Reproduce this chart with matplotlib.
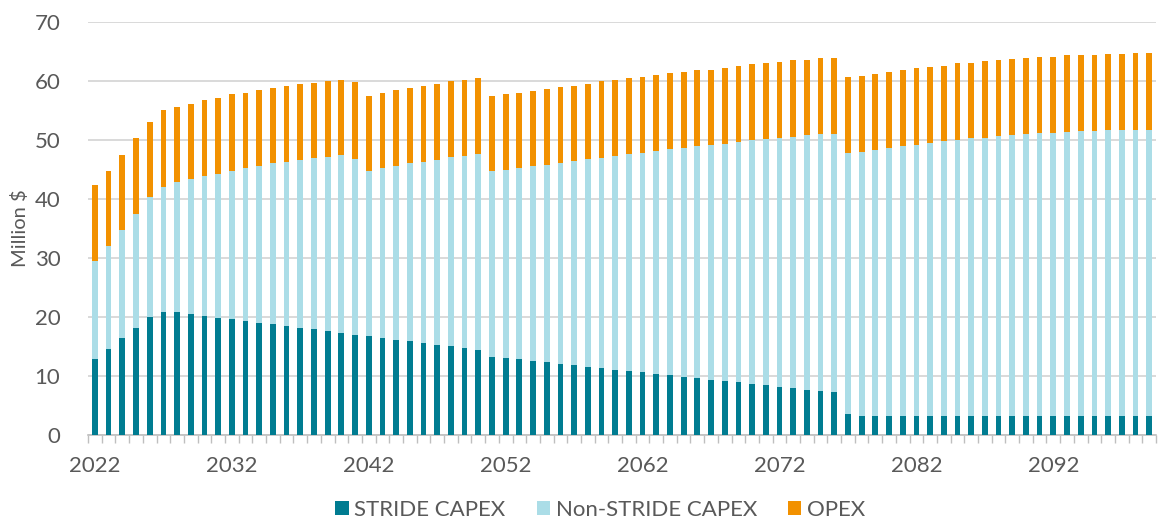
"""Stacked annual cost chart: STRIDE CAPEX, Non-STRIDE CAPEX and OPEX, 2022-2099."""

import matplotlib

matplotlib.use("Agg")
import matplotlib.pyplot as plt
import numpy as np
from matplotlib.patches import Patch
from matplotlib.ticker import FixedLocator, MultipleLocator

YEARS = list(range(2022, 2100))

STRIDE_CAPEX = [
    12.9, 14.5, 16.4, 18.1, 20.0, 20.9, 20.8, 20.5, 20.2, 19.9,
    19.6, 19.3, 19.0, 18.8, 18.5, 18.1, 17.9, 17.6, 17.3, 17.0,
    16.7, 16.4, 16.1, 15.9, 15.6, 15.3, 15.0, 14.7, 14.4, 13.2,
    13.0, 12.8, 12.5, 12.3, 12.0, 11.8, 11.5, 11.3, 11.0, 10.8,
    10.6, 10.3, 10.1, 9.9, 9.7, 9.4, 9.2, 8.9, 8.7, 8.4,
    8.1, 7.9, 7.7, 7.5, 7.2, 3.6, 3.3, 3.3, 3.3, 3.3,
    3.3, 3.3, 3.3, 3.3, 3.3, 3.3, 3.3, 3.3, 3.3, 3.3,
    3.3, 3.3, 3.3, 3.3, 3.3, 3.3, 3.3, 3.3,
]

NON_STRIDE_CAPEX = [
    16.6, 17.5, 18.3, 19.4, 20.3, 21.2, 22.0, 22.9, 23.7, 24.4,
    25.1, 25.9, 26.5, 27.2, 27.7, 28.5, 29.0, 29.5, 30.1, 29.8,
    28.0, 28.8, 29.5, 30.1, 30.7, 31.3, 32.1, 32.6, 33.2, 31.5,
    31.9, 32.4, 33.0, 33.5, 34.1, 34.6, 35.2, 35.7, 36.3, 36.8,
    37.2, 37.8, 38.3, 38.8, 39.2, 39.8, 40.1, 40.7, 41.2, 41.7,
    42.3, 42.6, 43.1, 43.5, 43.8, 44.2, 44.6, 45.0, 45.3, 45.6,
    45.9, 46.2, 46.5, 46.7, 47.0, 47.1, 47.3, 47.6, 47.7, 47.9,
    47.9, 48.1, 48.2, 48.2, 48.3, 48.4, 48.4, 48.4,
]

OPEX = [
    12.8, 12.8, 12.8, 12.8, 12.8, 12.9, 12.8, 12.7, 12.8, 12.8,
    13.0, 12.8, 12.9, 12.8, 12.9, 12.8, 12.8, 12.9, 12.8, 13.0,
    12.8, 12.8, 12.8, 12.8, 12.8, 12.9, 12.8, 12.8, 12.9, 12.8,
    12.9, 12.8, 12.8, 12.9, 12.8, 12.8, 12.8, 12.9, 12.8, 12.8,
    12.9, 12.9, 12.9, 12.8, 12.9, 12.7, 12.9, 12.9, 12.9, 12.9,
    12.8, 13.0, 12.8, 12.8, 12.9, 12.8, 12.9, 12.8, 12.9, 12.9,
    12.9, 12.8, 12.8, 13.0, 12.8, 13.0, 13.0, 12.8, 12.9, 12.8,
    12.9, 12.9, 12.9, 12.9, 12.9, 12.9, 13.0, 13.0,
]

SERIES_LABELS = ["STRIDE CAPEX", "Non-STRIDE CAPEX", "OPEX"]
SERIES_COLORS = ["#007C91", "#ABDDE7", "#F29100"]
TEXT_COLOR = "#595959"
GRID_COLOR = "#D9D9D9"


def main():
    plt.rcParams["font.family"] = ["Lato", "DejaVu Sans"]

    fig = plt.figure(figsize=(11.59, 5.2), dpi=100)
    ax = fig.add_axes([0.076, 0.1635, 0.9214, 0.7945])

    x = np.arange(len(YEARS))
    bottom = np.zeros(len(YEARS))
    for values, color in zip([STRIDE_CAPEX, NON_STRIDE_CAPEX, OPEX], SERIES_COLORS):
        ax.bar(x, values, width=0.42, bottom=bottom, color=color, zorder=3)
        bottom += np.asarray(values)

    ax.set_xlim(-0.5, len(YEARS) - 0.5)
    ax.set_ylim(0, 70)
    ax.yaxis.set_major_locator(MultipleLocator(10))
    ax.grid(axis="y", color=GRID_COLOR, linewidth=1.4, zorder=0)

    label_idx = [i for i, y in enumerate(YEARS) if (y - 2022) % 10 == 0]
    ax.set_xticks(label_idx)
    ax.set_xticklabels([str(YEARS[i]) for i in label_idx])
    ax.xaxis.set_minor_locator(FixedLocator(np.arange(-0.5, len(YEARS), 1.0)))
    ax.tick_params(axis="x", which="major", length=0, pad=15,
                   labelsize=16, labelcolor=TEXT_COLOR)
    ax.tick_params(axis="x", which="minor", length=6, width=1, color="#BFBFBF")
    ax.tick_params(axis="y", length=0, pad=20, labelsize=16, labelcolor=TEXT_COLOR)

    for side in ("top", "right", "left"):
        ax.spines[side].set_visible(False)
    ax.spines["bottom"].set_color("#BFBFBF")
    ax.spines["bottom"].set_linewidth(1.2)

    ax.set_ylabel("Million $", fontsize=14.5, color=TEXT_COLOR, labelpad=4)

    handles = [Patch(facecolor=c, edgecolor="none") for c in SERIES_COLORS]
    fig.legend(handles, SERIES_LABELS, loc="center", bbox_to_anchor=(0.518, 0.019),
               ncol=3, frameon=False, fontsize=16, labelcolor=TEXT_COLOR,
               handlelength=0.6, handleheight=0.6, handletextpad=0.25,
               columnspacing=1.4, borderpad=0.1)

    fig.savefig("out.png", dpi=100, facecolor="white")
    plt.close(fig)


if __name__ == "__main__":
    main()
